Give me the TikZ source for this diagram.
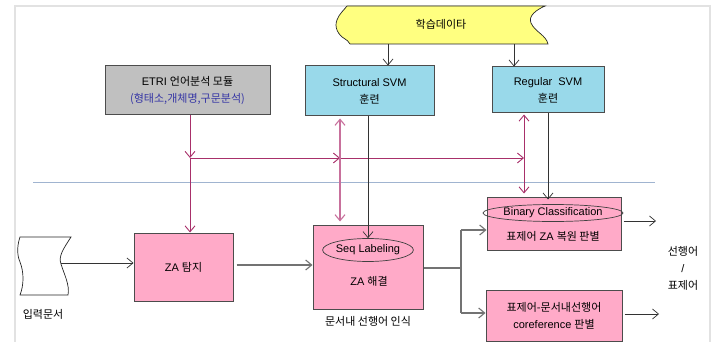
\documentclass[tikz,border=0pt]{standalone}
\usepackage{fontspec}
\setmainfont{Liberation Sans}
\newfontfamily\kr{Noto Sans CJK KR}
\usetikzlibrary{arrows.meta,shapes.geometric}
\definecolor{graybg}{HTML}{C0C0C0}
\definecolor{bluebg}{HTML}{99D9EA}
\definecolor{pinkbg}{HTML}{FFAAC8}
\definecolor{yellowbg}{HTML}{FFFF80}
\definecolor{magc}{HTML}{A8306A}
\definecolor{lmagc}{HTML}{C8709C}
\definecolor{sepc}{HTML}{A0B4D0}
\definecolor{bluetext}{HTML}{3535A5}
\definecolor{framec}{HTML}{E2E2E2}
\begin{document}
\begin{tikzpicture}[x=1pt,y=-1pt,
  vtip/.tip={Straight Barb[length=6pt,width=10pt]},
  txt/.style={inner sep=0pt,align=center,font=\fontsize{11}{17}\selectfont},
  box/.style={txt,draw=black!70,line width=1pt},
  graybox/.style={box,fill=graybg},
  bluebox/.style={box,fill=bluebg},
  pinkbox/.style={box,fill=pinkbg},
  oval/.style={ellipse,draw=black!75,line width=0.7pt,inner sep=0pt,font=\fontsize{11}{13}\selectfont},
  arr/.style={-vtip},
  both/.style={vtip-vtip},
  mag/.style={draw=magc,line width=0.9pt},
  lmag/.style={draw=lmagc,line width=1.1pt},
  blk/.style={draw=black!80,line width=0.7pt},
  gry/.style={draw=black!55,line width=1.1pt}
]
\useasboundingbox (0,0) rectangle (720,342);
% frame
\draw[framec,line width=1.5pt] (15,342) -- (15,6) -- (710,6) -- (710,342);
% separator
\draw[sepc,line width=0.9pt] (33,182) -- (655,182);
% training data tape
\draw[fill=yellowbg,draw=black!85,line width=0.7pt]
  (347,6) -- (545,6) .. controls (536,10) and (528,16) .. (531,23)
  .. controls (535,32) and (546,35) .. (548,44) -- (350,44)
  .. controls (349,41) and (346,40) .. (345,39)
  .. controls (338,35) and (334,27) .. (337,20)
  .. controls (339,14) and (344,10) .. (347,6) -- cycle;
\node[txt] (data) at (441,24) {\kr 학습데이타};
\coordinate (d1) at (388,44);
\coordinate (d2) at (514,44);
% input document
\draw[fill=white,draw=black!85,line width=0.7pt]
  (20,237) -- (71,237) .. controls (64,248) and (58,256) .. (61,264)
  .. controls (64,274) and (70,285) .. (68,295) -- (20,295)
  .. controls (24,285) and (24,272) .. (20,262)
  .. controls (16,253) and (18,243) .. (20,237) -- cycle;
\coordinate (docR) at (61,263);
\node[txt] (doclbl) at (43,314) {\kr 입력문서};
% boxes
\node[graybox,minimum width=165pt,minimum height=49pt] (etri) at (187.5,90.5)
  {ETRI {\kr 언어분석 모듈}\\\textcolor{bluetext}{\kr (형태소,개체명,구문분석)}};
\node[bluebox,minimum width=129pt,minimum height=50pt] (ssvm) at (369.5,91)
  {Structural SVM\\{\kr 훈련}};
\node[bluebox,minimum width=112pt,minimum height=46pt] (rsvm) at (548,90)
  {Regular\ \ SVM\\{\kr 훈련}};
\node[pinkbox,minimum width=99pt,minimum height=68pt] (detect) at (183.5,267)
  {ZA {\kr 탐지}};
\node[pinkbox,minimum width=110pt,minimum height=84pt] (resolve) at (368,267) {};
\node[oval,minimum width=87pt,minimum height=23pt] (seq) at (368,250) {Seq Labeling};
\node[txt] (reslbl) at (369,281) {ZA {\kr 해결}};
\node[txt] (rescap) at (368,321) {\kr 문서내 선행어 인식};
\node[pinkbox,minimum width=134pt,minimum height=53pt] (binary) at (554,223.5) {};
\node[oval,minimum width=121pt,minimum height=17pt] (bin) at (553,213) {Binary Classification};
\node[txt] (binlbl) at (553,236) {{\kr 표제어} ZA {\kr 복원 판별}};
\node[pinkbox,minimum width=136pt,minimum height=51pt] (coref) at (554,315.5)
  {{\kr 표제어-문서내선행어}\\coreference {\kr 판별}};
\node[txt] (out) at (683,268) {{\kr 선행어}\\/\\{\kr 표제어}};
% black arrows from data
\draw[blk,arr] (d1) -- (d1 |- ssvm.north);
\draw[blk,arr] (d2) -- (d2 |- rsvm.north);
% magenta connections from ETRI
\coordinate (e1) at (190,158);
\coordinate (e2) at (340,158);
\coordinate (e3) at (524,158);
\draw[mag,arr] (etri.south -| e1) -- (e1);
\draw[mag,arr] (e1) -- (e1 |- detect.north);
\draw[mag,arr] (e1) -- (e2);
\draw[mag,arr] (e2) -- (e3);
% double arrows
\draw[lmag,both,shorten <=2pt,shorten >=3pt] (ssvm.south -| e2) -- (e2 |- resolve.north);
\draw[mag,both,shorten <=1pt,shorten >=3pt] (rsvm.south -| e3) -- (e3 |- binary.north);
% black lines to models
\coordinate (s1) at (368,120);
\draw[blk,arr] (ssvm.south -| s1) -- (seq.north);
\coordinate (r1) at (548,120);
\draw[blk,arr] (rsvm.south -| r1) -- ([yshift=-3pt]r1 |- binary.north);
% main flow
\draw[blk,arr] (docR) -- (docR -| detect.west);
\draw[gry,arr] ([xshift=3pt,yshift=2pt]detect.east) -- ([yshift=2pt]resolve.west);
\coordinate (br) at (461,268);
\coordinate (bt) at (461,230);
\coordinate (bb) at (461,313);
\draw[gry] (resolve.east |- br) -- (br);
\draw[gry] (bt) -- (bb);
\draw[gry,arr] (bt) -- (bt -| binary.west);
\draw[gry,arr] (bb) -- (bb -| coref.west);
% outputs
\coordinate (o1) at (656,221);
\coordinate (o2) at (659,314);
\draw[blk,arr] ([xshift=2pt]binary.east |- o1) -- (o1);
\draw[blk,arr] ([xshift=2pt]coref.east |- o2) -- (o2);
\end{tikzpicture}
\end{document}
